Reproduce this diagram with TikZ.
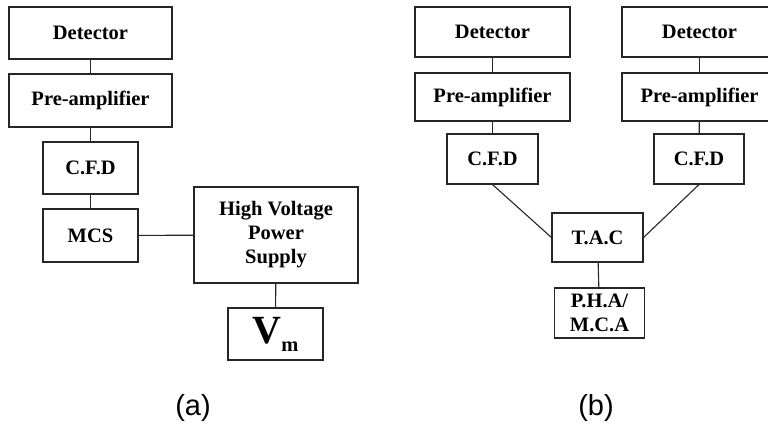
\documentclass[tikz,border=0pt]{standalone}
\usepackage{fontspec}
\setmainfont{Liberation Serif}
\setsansfont{Liberation Sans}
\begin{document}
\begin{tikzpicture}[x=1pt,y=-1pt,
  blk/.style={draw=black!85, line width=1.1pt, rectangle, inner sep=0pt,
    font=\bfseries\fontsize{20.5}{24}\selectfont, align=center},
  link/.style={draw=black!85, line width=1.1pt},
  panellabel/.style={font=\sffamily\fontsize{29}{32}\selectfont}]
\useasboundingbox (0,0) rectangle (768,428);
\clip (0,0) rectangle (768,428);

% (a) single-detector chain
\node[blk, minimum width=163pt, minimum height=52pt] (detA) at (90.5,33) {Detector};
\node[blk, minimum width=163pt, minimum height=53pt] (preA) at (90.5,100.5) {Pre-amplifier};
\node[blk, minimum width=95pt, minimum height=52pt] (cfdA) at (90.5,168) {C.F.D};
\node[blk, minimum width=95pt, minimum height=53pt] (mcs) at (90.5,235.5) {MCS};
\node[blk, minimum width=164pt, minimum height=96pt] (hv) at (276,235)
  {High Voltage\\Power\\Supply};
\node[blk, minimum width=95pt, minimum height=52pt] (vm) at (275.5,334)
  {{\fontsize{40}{40}\selectfont V}\raisebox{-8pt}{m}};

\draw[link] (detA) -- (preA);
\draw[link] (preA) -- (cfdA);
\draw[link] (cfdA) -- (mcs);
\draw[link] (mcs) -- (hv);
\draw[link] (hv) -- (vm);

\node[panellabel] (capA) at (193,408) {(a)};

% (b) two-detector coincidence chain
\node[blk, minimum width=155pt, minimum height=50pt] (detL) at (492.5,32) {Detector};
\node[blk, minimum width=155pt, minimum height=48pt] (preL) at (492.5,97) {Pre-amplifier};
\node[blk, minimum width=91pt, minimum height=50pt] (cfdL) at (492.5,159) {C.F.D};

\node[blk, minimum width=155pt, minimum height=50pt] (detR) at (699.5,32) {Detector};
\node[blk, minimum width=155pt, minimum height=48pt] (preR) at (699.5,97) {Pre-amplifier};
\node[blk, minimum width=90pt, minimum height=50pt] (cfdR) at (699,159) {C.F.D};

\node[blk, minimum width=91pt, minimum height=49pt] (tac) at (597.5,237.5) {T.A.C};
\node[blk, minimum width=90pt, minimum height=50pt] (pha) at (599.5,313)
  {P.H.A/\\M.C.A};

\draw[link] (detL) -- (preL);
\draw[link] (preL) -- (cfdL);
\draw[link] (detR) -- (preR);
\draw[link] (preR) -- (cfdR);
\draw[link] (cfdL.south) -- (tac.west);
\draw[link] (cfdR.south) -- (tac.east);
\draw[link] (tac) -- (pha);

\node[panellabel] (capB) at (596,408) {(b)};
\end{tikzpicture}
\end{document}
